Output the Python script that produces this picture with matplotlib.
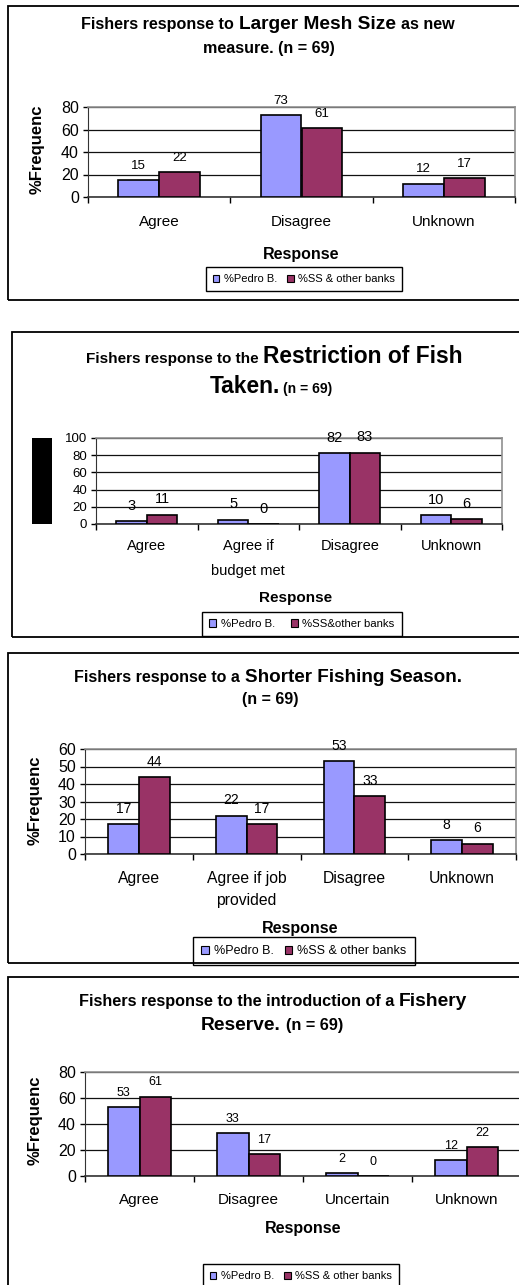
import numpy as np
import matplotlib
matplotlib.use('Agg')
import matplotlib.pyplot as plt
from matplotlib.patches import Rectangle, Patch

plt.rcParams['font.family'] = ['Liberation Sans', 'DejaVu Sans']

# - # Data

series = ['%Pedro B.', '%SS & other banks']

cats1 = ['Agree', 'Disagree', 'Unknown']
pedro1 = [15, 73, 12]
ss1 = [22, 61, 17]

cats2 = ['Agree', 'Agree if\nbudget met', 'Disagree', 'Unknown']
pedro2 = [3, 5, 82, 10]
ss2 = [11, 0, 83, 6]

cats3 = ['Agree', 'Agree if job\nprovided', 'Disagree', 'Unknown']
pedro3 = [17, 22, 53, 8]
ss3 = [44, 17, 33, 6]

cats4 = ['Agree', 'Disagree', 'Uncertain', 'Unknown']
pedro4 = [53, 33, 2, 12]
ss4 = [61, 17, 0, 22]

BLUE = '#9999FF'
RED = '#993366'

W, H = 519, 1285
fig = plt.figure(figsize=(W / 100, H / 100), dpi=100)
fig.patch.set_facecolor('white')


def fx(x):
    return x / W


def fy(y):
    return 1 - y / H


def border(left, top, bottom):
    fig.patches.append(Rectangle((fx(left), fy(bottom)), fx(560 - left), (bottom - top) / H,
                                 transform=fig.transFigure, fill=False,
                                 edgecolor='black', lw=1.3))


def mixed(cx, y, parts, spacing=1.0):
    # one title line made of bits in different sizes, centred on cx
    r = fig.canvas.get_renderer()
    texts, widths = [], []
    for s, size in parts:
        t = fig.text(0, fy(y), s, fontsize=size, fontweight='bold', va='baseline', ha='left')
        texts.append(t)
        widths.append(t.get_window_extent(r).width)
    gaps = [0.3 * parts[i][1] * 100 / 72 * spacing for i in range(len(parts) - 1)] + [0]
    total = sum(widths) + sum(gaps)
    x = cx - total / 2
    for t, w, g in zip(texts, widths, gaps):
        t.set_x(fx(x))
        x += w + g


def panel(box, cats, a, b, ymax, ystep, tick_fs=11.5, cat_fs=11, lab_fs=9.5,
          width=0.286, cat_pad=10, linesp=1.5):
    left, top, right, bottom = box
    ax = fig.add_axes([fx(left), fy(bottom), (right - left) / W, (bottom - top) / H])
    x = np.arange(len(cats))
    b1 = ax.bar(x - width / 2, a, width, color=BLUE, edgecolor='black', lw=1.2, zorder=3)
    b2 = ax.bar(x + width / 2, b, width, color=RED, edgecolor='black', lw=1.2, zorder=3)
    for bars, vals in ((b1, a), (b2, b)):
        for rect, v in zip(bars, vals):
            ax.annotate(str(v), (rect.get_x() + rect.get_width() / 2, v),
                        xytext=(0, 6), textcoords='offset points',
                        ha='center', va='bottom', fontsize=lab_fs)
    ax.set_xlim(-0.5, len(cats) - 0.5)
    ax.set_ylim(0, ymax)
    ax.set_yticks(np.arange(0, ymax + 1, ystep))
    ax.tick_params(axis='y', labelsize=tick_fs, length=3.5, width=1, direction='out', pad=3)
    ax.set_xticks(x)
    ax.set_xticklabels(cats, fontsize=cat_fs, linespacing=linesp)
    ax.set_xticks(np.arange(-0.5, len(cats)), minor=True)
    ax.tick_params(axis='x', which='major', length=0, pad=cat_pad)
    ax.tick_params(axis='x', which='minor', length=4, width=1, direction='out')
    ax.yaxis.grid(True, color='#111111', lw=0.9)
    ax.set_axisbelow(True)
    for s in ('top', 'right'):
        ax.spines[s].set_color('#909090')
        ax.spines[s].set_linewidth(1.2)
    ax.spines['left'].set_color('#333333')
    ax.spines['bottom'].set_color('#333333')
    ax.spines['bottom'].set_linewidth(1.2)
    return ax


def legend(ax, cx, cy, fs=8, labels=series, colsp=0.9):
    handles = [Patch(facecolor=BLUE, edgecolor='black', lw=0.8),
               Patch(facecolor=RED, edgecolor='black', lw=0.8)]
    leg = ax.legend(handles, labels, loc='center', bbox_to_anchor=(fx(cx), fy(cy)),
                    bbox_transform=fig.transFigure, ncol=2, fontsize=fs, frameon=True,
                    fancybox=False, edgecolor='black', framealpha=1,
                    handlelength=0.6, handleheight=0.6, handletextpad=0.4,
                    columnspacing=colsp, borderpad=0.65, borderaxespad=0)
    leg.get_frame().set_linewidth(1)


# - # Panel 1: larger mesh size

border(8, 6, 300)
mixed(268, 29, [('Fishers response to', 11.6), ('Larger Mesh Size', 13.8), ('as new', 11.6)])
mixed(269, 53, [('measure. (n = 69)', 11.6)])
ax1 = panel((88, 107, 515, 197), cats1, pedro1, ss1, 80, 20, cat_pad=13)
fig.text(fx(37), fy(149), '%Frequenc', rotation=90, fontsize=12, fontweight='bold',
         ha='center', va='center')
fig.text(fx(301), fy(254), 'Response', fontsize=11.5, fontweight='bold', ha='center', va='center')
legend(ax1, 304, 279)

# - # Panel 2: restriction of fish taken

border(12, 332, 637)
mixed(274, 363, [('Fishers response to the', 11), ('Restriction of Fish', 16.4)])
mixed(271, 393, [('Taken.', 16.4), ('(n = 69)', 10)], spacing=0.5)
ax2 = panel((96, 438, 502, 524), cats2, pedro2, ss2, 100, 20, tick_fs=9.5, cat_fs=10.5,
            lab_fs=10.5, width=0.3, cat_pad=11, linesp=2.0)
fig.patches.append(Rectangle((fx(32), fy(524)), 20 / W, 86 / H, transform=fig.transFigure,
                             facecolor='black', edgecolor='none'))
fig.text(fx(296), fy(598), 'Response', fontsize=11, fontweight='bold', ha='center', va='center')
legend(ax2, 302, 624, fs=8.2, labels=['%Pedro B.', '%SS&other banks'], colsp=1.4)

# - # Panel 3: shorter fishing season

border(8, 653, 963)
mixed(268, 682, [('Fishers response to a', 11.5), ('Shorter Fishing Season.', 13.6)])
mixed(270, 704, [('(n = 69)', 11.5)])
ax3 = panel((85, 749, 516, 854), cats3, pedro3, ss3, 60, 10, lab_fs=10, cat_fs=11.3,
            cat_pad=12, linesp=1.6)
fig.text(fx(35), fy(800), '%Frequenc', rotation=90, fontsize=12, fontweight='bold',
         ha='center', va='center')
fig.text(fx(300), fy(929), 'Response', fontsize=11.5, fontweight='bold', ha='center', va='center')
legend(ax3, 304, 951, fs=9)

# - # Panel 4: fishery reserve

border(8, 977, 1300)
mixed(273, 1006, [('Fishers response to the introduction of a', 11.7), ('Fishery', 13.9)])
mixed(272, 1030, [('Reserve.', 13.9), ('(n = 69)', 11.7)])
ax4 = panel((85, 1072, 521, 1176), cats4, pedro4, ss4, 80, 20, lab_fs=9, width=0.29, cat_pad=12)
fig.text(fx(35), fy(1120), '%Frequenc', rotation=90, fontsize=12, fontweight='bold',
         ha='center', va='center')
fig.text(fx(303), fy(1229), 'Response', fontsize=11.5, fontweight='bold', ha='center', va='center')
legend(ax4, 301, 1276)

fig.savefig('out.png', dpi=100)
